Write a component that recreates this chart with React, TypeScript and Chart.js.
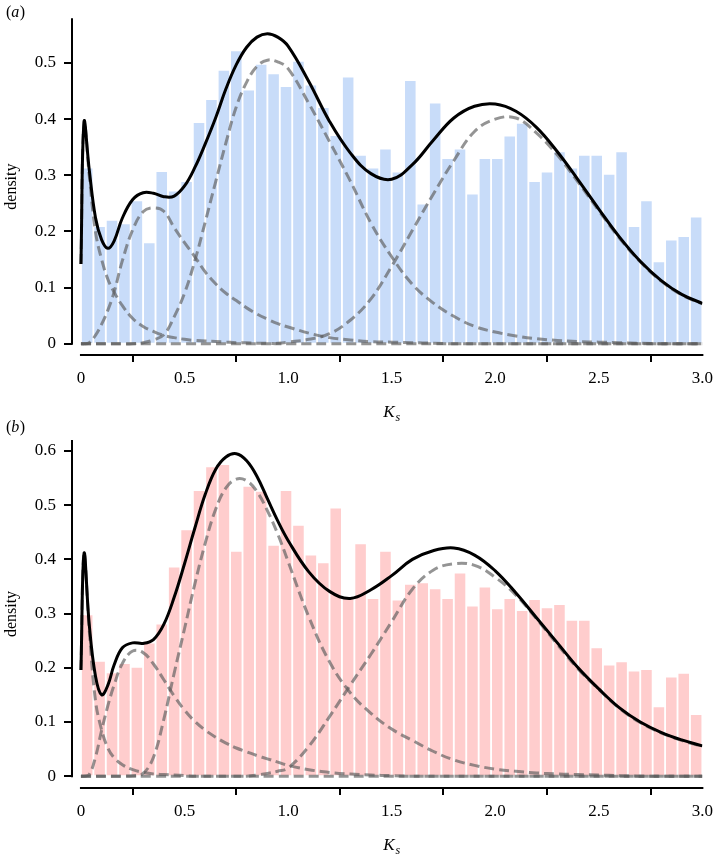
import React, { useEffect, useRef } from 'react';
import { Chart, registerables } from 'chart.js';

Chart.register(...registerables);

// ---- data -------------------------------------------------------------
const BIN_CENTERS = [
  0.03, 0.09, 0.15, 0.21, 0.27, 0.33, 0.39, 0.45, 0.51, 0.57,
  0.63, 0.69, 0.75, 0.81, 0.87, 0.93, 0.99, 1.05, 1.11, 1.17,
  1.23, 1.29, 1.35, 1.41, 1.47, 1.53, 1.59, 1.65, 1.71, 1.77,
  1.83, 1.89, 1.95, 2.01, 2.07, 2.13, 2.19, 2.25, 2.31, 2.37,
  2.43, 2.49, 2.55, 2.61, 2.67, 2.73, 2.79, 2.85, 2.91, 2.97,
];

const X_TICKS = [0, 0.5, 1.0, 1.5, 2.0, 2.5, 3.0];
const A_Y_TICKS = [0, 0.1, 0.2, 0.3, 0.4, 0.5];
const B_Y_TICKS = [0, 0.1, 0.2, 0.3, 0.4, 0.5, 0.6];

const A_HIST = [
  0.312, 0.208, 0.219, 0.213, 0.254, 0.179, 0.306, 0.271, 0.288, 0.393,
  0.434, 0.486, 0.521, 0.451, 0.497, 0.480, 0.457, 0.502, 0.460, 0.420,
  0.370, 0.474, 0.335, 0.312, 0.346, 0.305, 0.468, 0.248, 0.428, 0.329,
  0.346, 0.266, 0.329, 0.329, 0.369, 0.392, 0.288, 0.305, 0.341, 0.312,
  0.335, 0.335, 0.301, 0.341, 0.208, 0.254, 0.145, 0.184, 0.190, 0.225,
];

const B_HIST = [
  0.297, 0.211, 0.190, 0.207, 0.200, 0.245, 0.280, 0.385, 0.454, 0.526,
  0.570, 0.574, 0.414, 0.534, 0.525, 0.425, 0.526, 0.462, 0.407, 0.393,
  0.494, 0.328, 0.428, 0.327, 0.414, 0.324, 0.353, 0.356, 0.345, 0.327,
  0.374, 0.313, 0.348, 0.308, 0.327, 0.305, 0.325, 0.310, 0.316, 0.287,
  0.287, 0.236, 0.204, 0.210, 0.193, 0.196, 0.127, 0.182, 0.189, 0.113,
];

const CURVE_X = [
  0, 0.015, 0.04, 0.07, 0.1, 0.13, 0.16, 0.2, 0.25, 0.3, 0.35, 0.4, 0.45,
  0.5, 0.55, 0.6, 0.65, 0.7, 0.75, 0.8, 0.85, 0.9, 0.95, 1.0, 1.1, 1.2,
  1.3, 1.4, 1.5, 1.6, 1.7, 1.8, 1.9, 2.0, 2.1, 2.2, 2.3, 2.4, 2.5, 2.6,
  2.7, 2.8, 2.9, 3.0,
];

// panel (a) mixture density and components
const A_TOTAL = [
  0.142, 0.395, 0.310, 0.225, 0.185, 0.170, 0.183, 0.224, 0.257, 0.269, 0.268, 0.262, 0.263,
  0.281, 0.314, 0.356, 0.402, 0.454, 0.497, 0.528, 0.546, 0.552, 0.546, 0.530, 0.467, 0.396,
  0.340, 0.303, 0.293, 0.319, 0.362, 0.402, 0.423, 0.427, 0.414, 0.385, 0.342, 0.292, 0.240, 0.190,
  0.147, 0.113, 0.088, 0.072,
];
const A_COMP1 = [
  0.142, 0.395, 0.300, 0.200, 0.150, 0.115, 0.092, 0.068, 0.045, 0.031, 0.022, 0.015, 0.011,
  0.008, 0.006, 0.005, 0.004, 0.003, 0.002, 0.002, 0.001, 0.001, 0, 0, 0, 0,
  0, 0, 0, 0, 0, 0, 0, 0, 0, 0, 0, 0, 0, 0,
  0, 0, 0, 0,
];
const A_COMP2 = [
  0, 0, 0.002, 0.015, 0.035, 0.060, 0.092, 0.148, 0.203, 0.235, 0.242, 0.236, 0.207,
  0.180, 0.155, 0.128, 0.107, 0.090, 0.077, 0.064, 0.053, 0.044, 0.036, 0.030, 0.019, 0.011,
  0.007, 0.004, 0.003, 0.002, 0.001, 0, 0, 0, 0, 0, 0, 0, 0, 0,
  0, 0, 0, 0,
];
const A_COMP3 = [
  0, 0, 0, 0, 0, 0, 0, 0, 0, 0.002, 0.007, 0.016, 0.048,
  0.090, 0.148, 0.217, 0.288, 0.358, 0.422, 0.466, 0.494, 0.505, 0.502, 0.490, 0.428, 0.360,
  0.290, 0.215, 0.155, 0.106, 0.073, 0.049, 0.031, 0.021, 0.014, 0.009, 0.006, 0.004, 0.003, 0.002,
  0.001, 0, 0, 0,
];
const A_COMP4 = [
  0, 0, 0, 0, 0, 0, 0, 0, 0, 0, 0, 0, 0,
  0, 0, 0, 0, 0, 0, 0, 0, 0, 0.001, 0.003, 0.008, 0.018,
  0.042, 0.080, 0.138, 0.202, 0.266, 0.326, 0.378, 0.400, 0.402, 0.375, 0.336, 0.288, 0.237, 0.188,
  0.146, 0.112, 0.087, 0.071,
];

// panel (b) mixture density and components
const B_TOTAL = [
  0.196, 0.411, 0.280, 0.185, 0.150, 0.168, 0.205, 0.237, 0.246, 0.245, 0.252, 0.280, 0.330,
  0.392, 0.458, 0.520, 0.566, 0.589, 0.595, 0.582, 0.553, 0.512, 0.471, 0.435, 0.377, 0.341,
  0.328, 0.344, 0.370, 0.400, 0.416, 0.421, 0.408, 0.379, 0.338, 0.292, 0.246, 0.200, 0.161, 0.126,
  0.100, 0.081, 0.067, 0.056,
];
const B_COMP1 = [
  0.196, 0.411, 0.270, 0.140, 0.085, 0.052, 0.034, 0.021, 0.012, 0.007, 0.004, 0.003, 0.002,
  0.001, 0, 0, 0, 0, 0, 0, 0, 0, 0, 0, 0, 0,
  0, 0, 0, 0, 0, 0, 0, 0, 0, 0, 0, 0, 0, 0,
  0, 0, 0, 0,
];
const B_COMP2 = [
  0, 0, 0.003, 0.035, 0.085, 0.130, 0.168, 0.208, 0.231, 0.228, 0.207, 0.178, 0.148,
  0.122, 0.101, 0.085, 0.072, 0.061, 0.052, 0.045, 0.038, 0.032, 0.026, 0.020, 0.012, 0.007,
  0.004, 0.002, 0.001, 0, 0, 0, 0, 0, 0, 0, 0, 0, 0, 0,
  0, 0, 0, 0,
];
const B_COMP3 = [
  0, 0, 0, 0, 0, 0, 0, 0, 0.001, 0.005, 0.035, 0.105, 0.190,
  0.272, 0.355, 0.430, 0.492, 0.532, 0.548, 0.545, 0.525, 0.490, 0.447, 0.396, 0.294, 0.211,
  0.154, 0.116, 0.087, 0.066, 0.046, 0.030, 0.020, 0.013, 0.009, 0.006, 0.004, 0.003, 0.002, 0.001,
  0, 0, 0, 0,
];
const B_COMP4 = [
  0, 0, 0, 0, 0, 0, 0, 0, 0, 0, 0, 0, 0,
  0, 0, 0, 0, 0, 0, 0, 0.002, 0.005, 0.009, 0.015, 0.055, 0.110,
  0.168, 0.225, 0.285, 0.345, 0.380, 0.392, 0.389, 0.367, 0.334, 0.290, 0.243, 0.198, 0.160, 0.125,
  0.099, 0.080, 0.066, 0.055,
];

// ---- chart helpers ------------------------------------------------------
const FONT = '"Liberation Serif", "Times New Roman", serif';

const toPts = (xs: number[], ys: number[]) => xs.map((x, i) => ({ x, y: ys[i] }));
const fmt = (v: number) => (v === 0 ? '0' : v.toFixed(1));

interface PanelOpts {
  hist: number[];
  barColor: string;
  total: number[];
  comps: number[][];
  yTicks: number[];
  yMin: number;
  yMax: number;
  height: number;
  padTop: number;
  bottom: number;
  letter: string;
  letterBaseline: number;
  kBaseline: number;
}

function buildConfig(p: PanelOpts): any {
  const decorPlugin = {
    id: 'decor',
    afterDraw(chart: any) {
      const { ctx, chartArea } = chart;
      const x = chart.scales.x;
      const y = chart.scales.y;
      ctx.save();
      ctx.strokeStyle = '#000';
      ctx.lineWidth = 2;
      ctx.beginPath();
      ctx.moveTo(chartArea.left, y.getPixelForValue(0) + 1);
      ctx.lineTo(chartArea.left, chartArea.top);
      ctx.moveTo(x.getPixelForValue(0) - 1, chartArea.bottom);
      ctx.lineTo(x.getPixelForValue(3) + 1, chartArea.bottom);
      ctx.stroke();

      ctx.fillStyle = '#000';
      ctx.textBaseline = 'alphabetic';
      ctx.textAlign = 'left';
      // x-axis title K_s
      ctx.font = 'italic 17px ' + FONT;
      const wK = ctx.measureText('K').width;
      ctx.font = 'italic 12px ' + FONT;
      const wS = ctx.measureText('s').width;
      const cx = x.getPixelForValue(1.5);
      const start = cx - (wK + wS + 1) / 2;
      ctx.font = 'italic 17px ' + FONT;
      ctx.fillText('K', start, p.kBaseline);
      ctx.font = 'italic 12px ' + FONT;
      ctx.fillText('s', start + wK + 1, p.kBaseline + 4);

      // panel letter
      let px = 6;
      ctx.font = '16px ' + FONT;
      ctx.fillText('(', px, p.letterBaseline);
      px += ctx.measureText('(').width;
      ctx.font = 'italic 16px ' + FONT;
      ctx.fillText(p.letter, px, p.letterBaseline);
      px += ctx.measureText(p.letter).width + 0.5;
      ctx.font = '16px ' + FONT;
      ctx.fillText(')', px, p.letterBaseline);
      ctx.restore();
    },
  };

  const dashed = (vals: number[]) => ({
    type: 'line',
    data: toPts(CURVE_X, vals),
    borderColor: 'rgba(90,90,90,0.65)',
    borderWidth: 3,
    borderDash: [10, 5],
    pointRadius: 0,
    fill: false,
    tension: 0.4,
    order: 1,
  });

  return {
    type: 'line',
    data: {
      datasets: [
        {
          type: 'line',
          data: toPts(CURVE_X, p.total),
          borderColor: '#000',
          borderWidth: 3,
          pointRadius: 0,
          fill: false,
          tension: 0.4,
          order: 0,
        },
        ...p.comps.map(dashed),
        {
          type: 'bar',
          data: toPts(BIN_CENTERS, p.hist),
          backgroundColor: p.barColor,
          borderWidth: 0,
          categoryPercentage: 0.85,
          barPercentage: 1,
          order: 2,
        },
      ],
    },
    options: {
      responsive: false,
      animation: false,
      events: [],
      layout: { padding: { top: p.padTop, right: 13, left: 0, bottom: 0 } },
      plugins: { legend: { display: false }, tooltip: { enabled: false } },
      scales: {
        x: {
          type: 'linear',
          min: -0.0432,
          max: 3.0,
          offset: false,
          afterBuildTicks: (s: any) => {
            s.ticks = X_TICKS.map((v) => ({ value: v }));
          },
          afterFit: (s: any) => {
            s.height = p.height - p.bottom;
          },
          border: { display: false },
          grid: {
            display: true,
            drawOnChartArea: false,
            drawTicks: true,
            tickLength: 7,
            color: '#000',
            lineWidth: 2,
          },
          ticks: {
            autoSkip: false,
            maxRotation: 0,
            padding: 6,
            color: '#000',
            font: { family: FONT, size: 17 },
            callback: (v: any) => fmt(Number(v)),
          },
        },
        y: {
          type: 'linear',
          min: p.yMin,
          max: p.yMax,
          afterBuildTicks: (s: any) => {
            s.ticks = p.yTicks.map((v) => ({ value: v }));
          },
          afterFit: (s: any) => {
            s.width = 72;
          },
          border: { display: false },
          grid: {
            display: true,
            drawOnChartArea: false,
            drawTicks: true,
            tickLength: 8,
            color: '#000',
            lineWidth: 2,
          },
          ticks: {
            autoSkip: false,
            padding: 8,
            color: '#000',
            font: { family: FONT, size: 17 },
            callback: (v: any) => fmt(Number(v)),
          },
          title: {
            display: true,
            text: 'density',
            color: '#000',
            font: { family: FONT, size: 16 },
            padding: { top: 2, bottom: 0 },
          },
        },
      },
    },
    plugins: [decorPlugin],
  };
}

export default function App() {
  const refA = useRef<HTMLCanvasElement>(null);
  const refB = useRef<HTMLCanvasElement>(null);

  useEffect(() => {
    const chartA = new Chart(
      refA.current as HTMLCanvasElement,
      buildConfig({
        hist: A_HIST,
        barColor: '#c8dcf9',
        total: A_TOTAL,
        comps: [A_COMP1, A_COMP2, A_COMP3, A_COMP4],
        yTicks: A_Y_TICKS,
        yMin: -0.0199,
        yMax: 0.5797,
        height: 430,
        padTop: 3,
        bottom: 355,
        letter: 'a',
        letterBaseline: 17,
        kBaseline: 417,
      })
    );
    const chartB = new Chart(
      refB.current as HTMLCanvasElement,
      buildConfig({
        hist: B_HIST,
        barColor: '#ffcdcd',
        total: B_TOTAL,
        comps: [B_COMP1, B_COMP2, B_COMP3, B_COMP4],
        yTicks: B_Y_TICKS,
        yMin: -0.0218,
        yMax: 0.6203,
        height: 444,
        padTop: 30,
        bottom: 378,
        letter: 'b',
        letterBaseline: 22,
        kBaseline: 440,
      })
    );
    return () => {
      chartA.destroy();
      chartB.destroy();
    };
  }, []);

  return (
    <div style={{ position: 'absolute', left: 0, top: 0, width: 719, height: 854, background: '#fff' }}>
      <canvas ref={refA} width={719} height={430} style={{ position: 'absolute', left: 0, top: 0 }} />
      <canvas ref={refB} width={719} height={444} style={{ position: 'absolute', left: 0, top: 410 }} />
    </div>
  );
}
